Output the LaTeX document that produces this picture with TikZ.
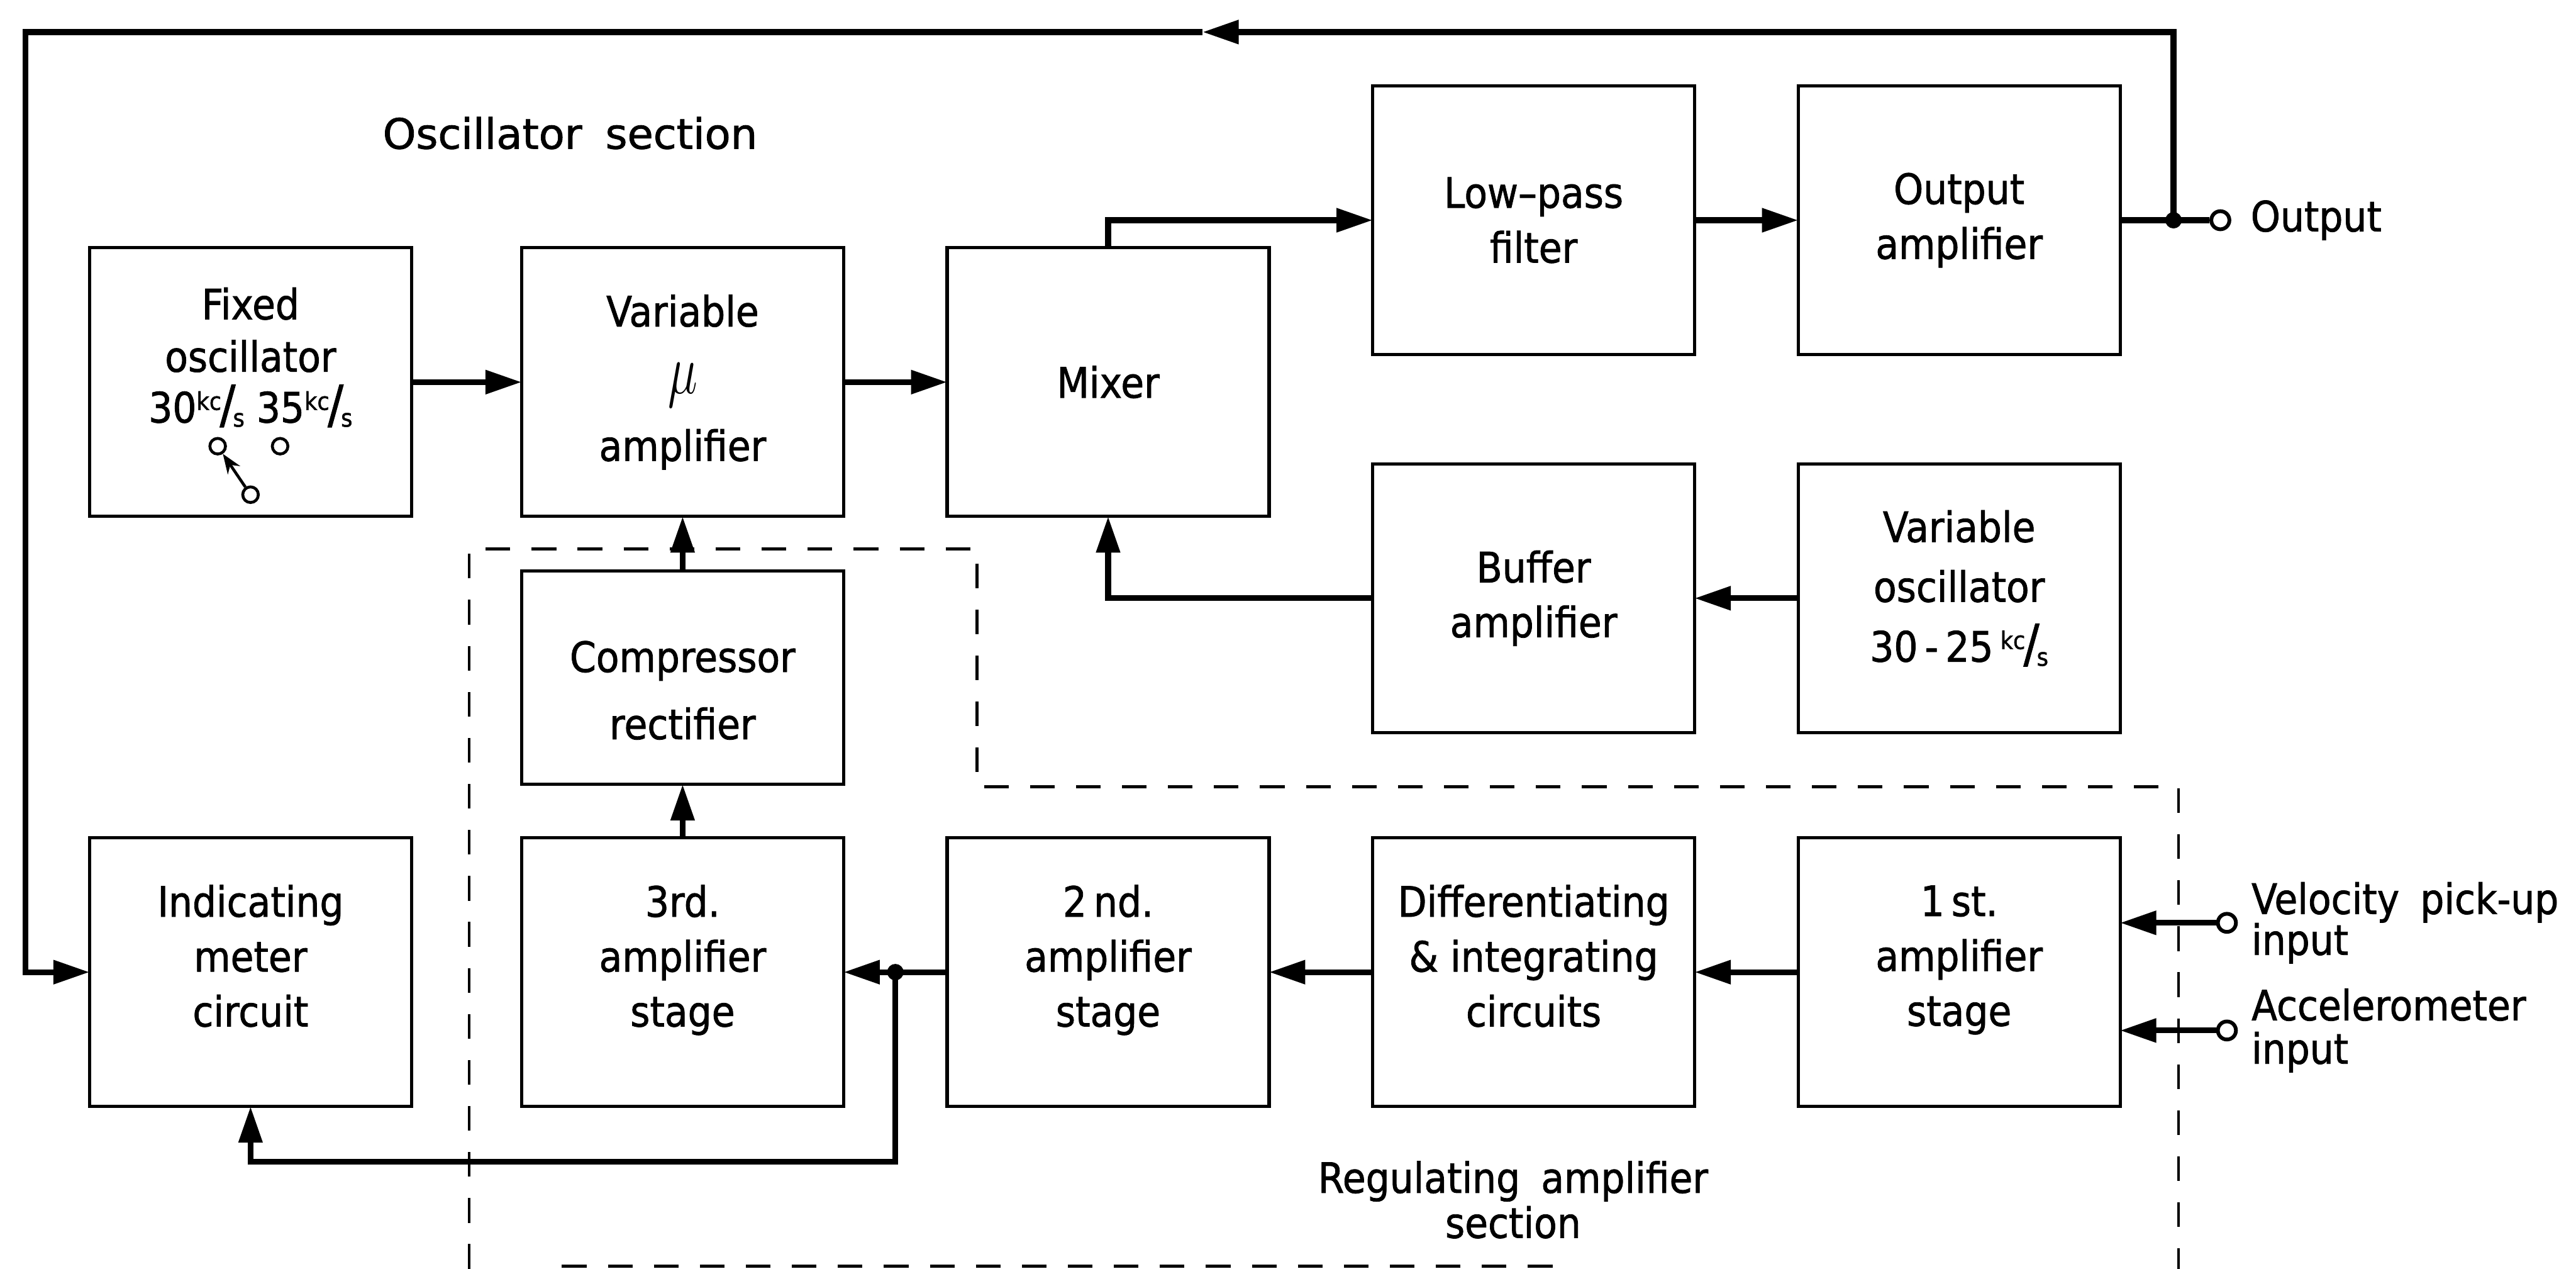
\documentclass[tikz,border=0pt]{standalone}
\usepackage{fontspec}
\usepackage{graphicx}
\usepackage{tikz}
\usetikzlibrary{positioning,arrows.meta,calc}
\newfontfamily\diagfont{DejaVu Sans}[FakeStretch=0.9, FakeBold=1.2]
\newcommand{\blockfont}{\diagfont\fontsize{14.5}{19}\selectfont}
\newcommand{\kcs}{\raisebox{0.3em}{\fontsize{8.5}{9}\selectfont kc}\kern-0.04em{\fontsize{18}{18}\selectfont/}\kern-0.06em\raisebox{-0.1em}{\fontsize{8.5}{9}\selectfont s}}
\newcommand{\lowpad}[1]{\rule[-#1]{0pt}{#1}}
\tikzset{block/.style={draw, line width=1.1pt, minimum width=39.2mm, minimum height=32.7mm, inner sep=0pt, outer sep=0pt, align=center, font=\blockfont}, caption/.style={inner sep=0pt, align=center, font=\blockfont}, sig/.style={line width=2pt}, sigarrow/.style={sig, -{Triangle[length=4.4mm,width=2.8mm]}}, term/.style={circle, draw, line width=1.3pt, fill=white, minimum size=2.2mm, inner sep=0pt}, contact/.style={circle, draw, line width=1pt, minimum size=1.9mm, inner sep=0pt}, sectionline/.style={line width=1pt, dash pattern=on 3mm off 2.6mm}}
\begin{document}
\begin{tikzpicture}[x=0.2mm, y=-0.2mm, node distance=12.6mm]
\useasboundingbox (0,0) rectangle (1568,772);
\node[block] (fixosc) at (152.5,232.5) {Fixed\\[-0.03cm]oscillator\\[-0.05cm]30\kcs\ 35\kcs\lowpad{0.66cm}};
\node[block, right=13.4mm of fixosc] (varmu) {Variable\\[0.15cm]\scalebox{1.2}[1.7]{$\mu$}\\[0.15cm]amplifier};
\node[block, right=of varmu] (mixer) {Mixer};
\node[block] (lpf) at (933.5,134) {Low\textendash pass\\filter};
\node[block, right=of lpf] (outamp) {Output\\amplifier};
\node[block] (buffer) at (933.5,364) {Buffer\\amplifier};
\node[block, right=of buffer] (varosc) {Variable\\[0.06cm]oscillator\\[0.06cm]30\,-\,25\,\kcs\lowpad{0.3cm}};
\node[block, minimum height=26mm, below=6.6mm of varmu] (comp) {\rule{0pt}{0.69cm}Compressor\\[0.15cm]rectifier};
\node[block] (meter) at (152.5,591.5) {Indicating\\meter\\circuit\lowpad{0.4cm}};
\node[block, right=13.4mm of meter] (amp3) {3rd.\\amplifier\\stage\lowpad{0.4cm}};
\node[block, right=of amp3] (amp2) {2\,nd.\\amplifier\\stage\lowpad{0.4cm}};
\node[block, right=of amp2] (diff) {Differentiating\\\& integrating\\circuits\lowpad{0.4cm}};
\node[block, right=of diff] (amp1) {1\,st.\\amplifier\\stage\lowpad{0.4cm}};
\node[contact] (swa) at ([shift={(-20,39)}]fixosc.center) {};
\node[contact] (swb) at ([shift={(18,39)}]fixosc.center) {};
\node[contact] (swarm) at ([shift={(0,68.5)}]fixosc.center) {};
\node[term] (outterm) at (1351.5,134) {};
\node[term] (vterm) at (1355.5,561.5) {};
\node[term] (aterm) at (1355.5,627) {};
\node[caption, right=2.3mm of outterm] (outlabel) {Output};
\node[caption, align=left, right=1.6mm of vterm] (vlabel) {Velocity\enspace pick-up\\[-0.17cm]input};
\node[caption, align=left, right=1.6mm of aterm] (alabel) {Accelerometer\\[-0.14cm]input};
\node[caption] (oscsec) at (347,81) {\scalebox{1.12}[1]{Oscillator\enspace section}};
\node[caption] (regsec) at (921,730) {Regulating\enspace amplifier\\[-0.12cm]section};
\coordinate (jout) at (1323,134);
\coordinate (jmtr) at ($(amp3.east)!0.5!(amp2.west)$);
\coordinate (fbtip) at (732,19.5);
\coordinate (fbcorner) at (15.5,19.5);
\coordinate (mtrloop) at (0,707);
\draw[sigarrow] (fixosc) -- (varmu);
\draw[sigarrow] (varmu) -- (mixer);
\draw[sigarrow] (mixer.north) |- (lpf.west);
\draw[sigarrow] (lpf) -- (outamp);
\draw[sig] (outamp) -- (outterm);
\draw[sigarrow] (jout) |- (fbtip);
\draw[sigarrow] (fbtip) -- (fbcorner) |- (meter.west);
\draw[sigarrow] (varosc) -- (buffer);
\draw[sigarrow] (buffer.west) -| (mixer.south);
\draw[sigarrow] (comp) -- (varmu);
\draw[sigarrow] (amp3) -- (comp);
\draw[sigarrow] (amp1) -- (diff);
\draw[sigarrow] (diff) -- (amp2);
\draw[sigarrow] (amp2) -- (amp3);
\draw[sigarrow] (jmtr) -- (jmtr |- mtrloop) -| (meter.south);
\draw[sigarrow] (vterm) -- (vterm -| amp1.east);
\draw[sigarrow] (aterm) -- (aterm -| amp1.east);
\draw[line width=1pt, -{Stealth[length=2.4mm,width=1.8mm]}] (swarm) -- (swa);
\fill (jout) circle (1mm);
\fill (jmtr) circle (1mm);
\draw[sectionline] (285.6,772) -- (285.6,334) -- (594.8,334) -- (594.8,478.7) -- (1326,478.7) -- (1326,772);
\draw[sectionline] (342,770.5) -- (954,770.5);
\end{tikzpicture}
\end{document}
